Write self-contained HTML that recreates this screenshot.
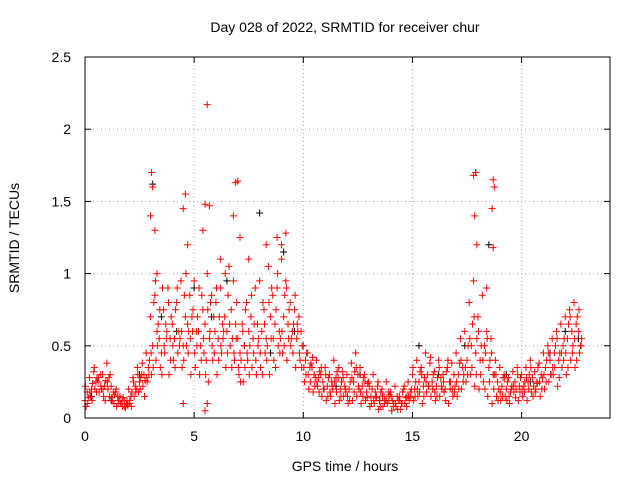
<!DOCTYPE html>
<html><head><meta charset="utf-8"><style>
body{margin:0;background:#fff}
svg{display:block;font-family:"Liberation Sans",sans-serif;font-size:14px}
</style></head><body>
<svg id="chart" width="640" height="480" viewBox="0 0 640 480">
<rect x="0" y="0" width="640" height="480" fill="#fff"/>
<g id="grid"></g>
<g id="marks"></g>
<rect x="85" y="57" width="525" height="361" fill="none" stroke="#000" stroke-width="1"/>
<g id="ticks"></g>
<text x="345" y="32" text-anchor="middle">Day 028 of 2022, SRMTID for receiver chur</text>
<text x="345" y="471" text-anchor="middle">GPS time / hours</text>
<text x="19" y="238" text-anchor="middle" transform="rotate(-90 19 238)">SRMTID / TECUs</text>
</svg>
<script>
const xTicks=[0,5,10,15,20];
const yTicks=[0,0.5,1,1.5,2,2.5];
const yTickLabels=["0","0.5","1","1.5","2","2.5"];
const step=0.2;
const redA=[.12,.28,.32,.25,.30,.38,.22,.18,.15,.12,.20,.28,.35,.30,.45,.70,.85,.55,.75,.90,.65,.80,.95,.70,.85,.95,.60,.75,1.0,.85,.80,.90,.70,1.05,.95,.55,.65,.80,.70,.90,.95,.75,1.05,.85,.90,1.1,.95,.80,.75,.70,.50,.45,.35,.40,.30,.35,.30,.40,.28,.32,.30,.38,.45,.35,.30,.25,.30,.22,.20,.25,.18,.22,.15,.20,.25,.30,.40,.35,.45,.38,.32,.40,.30,.35,.38,.45,.55,.60,.80,.95,.70,.85,.60,.55,.40,.35,.30,.28,.32,.35,.30,.35,.40,.32,.38,.45,.50,.55,.60,.65,.70,.75,.80,.60];
const redB=[.08,.15,.20,.18,.15,.20,.12,.08,.10,.07,.12,.15,.18,.22,.25,.30,.40,.35,.45,.30,.40,.45,.35,.50,.30,.35,.30,.45,.25,.40,.30,.45,.35,.50,.40,.30,.25,.40,.35,.30,.35,.45,.30,.40,.50,.45,.40,.55,.35,.40,.25,.20,.18,.22,.15,.12,.15,.10,.12,.15,.10,.12,.15,.10,.12,.08,.10,.06,.08,.10,.05,.08,.06,.10,.12,.12,.15,.10,.18,.15,.12,.15,.18,.10,.15,.15,.20,.25,.30,.22,.20,.25,.15,.10,.15,.12,.15,.10,.18,.12,.15,.12,.18,.20,.15,.20,.25,.30,.22,.35,.30,.40,.35,.45];
const redC=[.18,.20,.25,.30,.22,.28,.18,.15,.12,.10,.15,.22,.25,.30,.35,.50,.60,.45,.65,.55,.55,.60,.50,.65,.70,.60,.50,.65,.55,.70,.55,.65,.60,.75,.65,.45,.50,.60,.55,.65,.60,.55,.70,.65,.60,.70,.65,.60,.55,.60,.40,.35,.30,.28,.25,.22,.25,.28,.20,.22,.20,.25,.30,.22,.18,.15,.18,.12,.15,.18,.12,.15,.10,.14,.18,.20,.25,.22,.30,.25,.22,.28,.20,.25,.30,.30,.35,.40,.50,.45,.40,.50,.35,.30,.25,.22,.20,.18,.25,.22,.22,.25,.28,.25,.30,.35,.40,.45,.40,.50,.55,.60,.65,.50];
const redD=[.14,.24,.28,.20,.26,.30,.16,.12,.14,.09,.18,.20,.28,.26,.40,.80,.65,.90,.60,.70,.75,.55,.85,.60,.75,.70,.85,.40,.80,.60,.70,.60,.85,.55,.80,.40,.75,.50,.65,.55,.80,.50,.90,.75,.55,.85,.75,.65,.60,.50,.45,.38,.28,.32,.20,.28,.20,.32,.25,.18,.25,.32,.20,.28,.24,.20,.15,.18,.12,.16,.10,.12,.18,.15,.20,.25,.32,.28,.22,.30,.28,.20,.32,.25,.22,.38,.30,.50,.65,.55,.50,.45,.40,.30,.20,.28,.25,.22,.20,.28,.25,.30,.22,.35,.28,.40,.30,.50,.45,.55,.65,.50,.70,.55];
const redE=[.22,.18,.35,.28,.20,.25,.14,.20,.10,.08,.10,.25,.30,.38,.28,.45,.95,.75,.50,.80,.50,.90,.60,1.0,.55,.45,.90,.55,.75,.50,.90,.50,1.0,.65,.45,.35,.60,.45,.85,.40,.45,.65,.80,.55,1.0,.60,.90,.50,.85,.45,.35,.30,.42,.25,.35,.30,.18,.25,.35,.28,.15,.28,.35,.18,.25,.22,.12,.25,.15,.12,.15,.10,.12,.22,.15,.35,.20,.30,.25,.42,.18,.35,.25,.40,.20,.25,.40,.35,.55,.70,.60,.40,.55,.45,.30,.18,.28,.15,.22,.30,.20,.28,.35,.18,.25,.30,.45,.35,.55,.45,.45,.70,.55,.75];
const redF=[.10,.12,.18,.22,.12,.15,.10,.10,.08,.12,.08,.18,.20,.15,.30,.35,.50,.30,.55,.40,.35,.50,.40,.45,.60,.50,.40,.30,.60,.45,.40,.55,.45,.35,.55,.25,.35,.30,.45,.50,.30,.40,.55,.35,.45,.50,.55,.45,.65,.35,.30,.25,.22,.18,.20,.15,.22,.18,.15,.20,.12,.18,.22,.15,.14,.10,.14,.08,.10,.12,.08,.06,.10,.08,.14,.15,.18,.15,.22,.20,.15,.22,.12,.20,.18,.20,.25,.30,.35,.30,.30,.20,.25,.20,.12,.15,.12,.20,.14,.18,.18,.20,.15,.24,.20,.25,.30,.35,.28,.40,.35,.45,.40,.50];
const spikeHours=[3.1,3.05,3.0,3.2,4.6,4.5,4.7,5.6,5.5,5.7,5.4,6.9,7.0,6.8,7.1,8.3,8.8,9.0,9.2,17.8,17.9,17.85,17.95,18.7,18.75,18.65,18.7,3.3,6.2,5.5,5.6,4.5,18.4,7.5];
const spikeValues=[1.6,1.7,1.4,1.3,1.55,1.45,1.2,2.17,1.48,1.47,1.3,1.63,1.64,1.4,1.25,1.2,1.25,1.2,1.28,1.68,1.7,1.4,1.2,1.65,1.6,1.45,1.18,1.0,1.1,0.05,0.1,0.1,0.9,1.1];
const blackHours=[0.3,1.2,2.5,3.1,3.5,4.2,5.0,5.8,6.5,7.3,8.0,8.5,9.1,9.6,10.4,11.5,12.6,13.5,14.5,15.3,16.2,17.4,17.9,18.5,19.3,20.4,21.3,22.0,22.6];
const blackValues=[0.15,0.12,0.3,1.62,0.7,0.6,0.9,0.7,0.95,0.5,1.42,0.45,1.15,0.6,0.35,0.22,0.3,0.12,0.1,0.5,0.3,0.5,1.7,1.2,0.3,0.25,0.45,0.6,0.55];
const X=h=>85+h*(525/24.05);
const Y=v=>418-v*(361/2.5);
const NS="http://www.w3.org/2000/svg";
const grid=document.getElementById('grid'),ticks=document.getElementById('ticks'),marks=document.getElementById('marks');
function ln(p,x1,y1,x2,y2,st,dash){const l=document.createElementNS(NS,'line');l.setAttribute('x1',x1);l.setAttribute('y1',y1);l.setAttribute('x2',x2);l.setAttribute('y2',y2);l.setAttribute('stroke',st);if(dash)l.setAttribute('stroke-dasharray',dash);p.appendChild(l);return l;}
function tx(p,x,y,s,a){const t=document.createElementNS(NS,'text');t.setAttribute('x',x);t.setAttribute('y',y);t.setAttribute('text-anchor',a);t.textContent=s;p.appendChild(t);return t;}
yTicks.forEach((v,i)=>{const y=Y(v);
 if(i>0&&i<yTicks.length-1){const g=ln(grid,85,y,610,y,'#a0a0a0','1,3');}
 const t1=ln(ticks,85,y,91,y,'#000');
 const t2=ln(ticks,604,y,610,y,'#000');
 const t=tx(ticks,71,y+5,yTickLabels[i],'end');});
xTicks.forEach(h=>{const x=X(h);
 if(h>0){const g=ln(grid,x,57,x,418,'#a0a0a0','1,3');}
 const t1=ln(ticks,x,418,x,412,'#000');
 const t2=ln(ticks,x,57,x,63,'#000');
 const t=tx(ticks,x,441,String(h),'middle');});
function plus(h,v,col,name){const x=X(h),y=Y(v);const p=document.createElementNS(NS,'path');
 p.setAttribute('d',`M${x-3.5} ${y}H${x+3.5}M${x} ${y-3.5}V${y+3.5}`);p.setAttribute('stroke',col);p.setAttribute('stroke-width','1');
 
 
 marks.appendChild(p);}
blackHours.forEach((h,i)=>plus(h,blackValues[i],'#000','black-point'));
redA.forEach((v,i)=>plus(i*step,v,'#f00','red-point'));
redB.forEach((v,i)=>plus(i*step+0.05,v,'#f00','red-point'));
redC.forEach((v,i)=>plus(i*step+0.1,v,'#f00','red-point'));
redD.forEach((v,i)=>plus(i*step+0.15,v,'#f00','red-point'));
redE.forEach((v,i)=>plus(i*step+0.025,v,'#f00','red-point'));
redF.forEach((v,i)=>plus(i*step+0.125,v,'#f00','red-point'));
spikeHours.forEach((h,i)=>plus(h,spikeValues[i],'#f00','red-spike-point'));
</script>
</body></html>
